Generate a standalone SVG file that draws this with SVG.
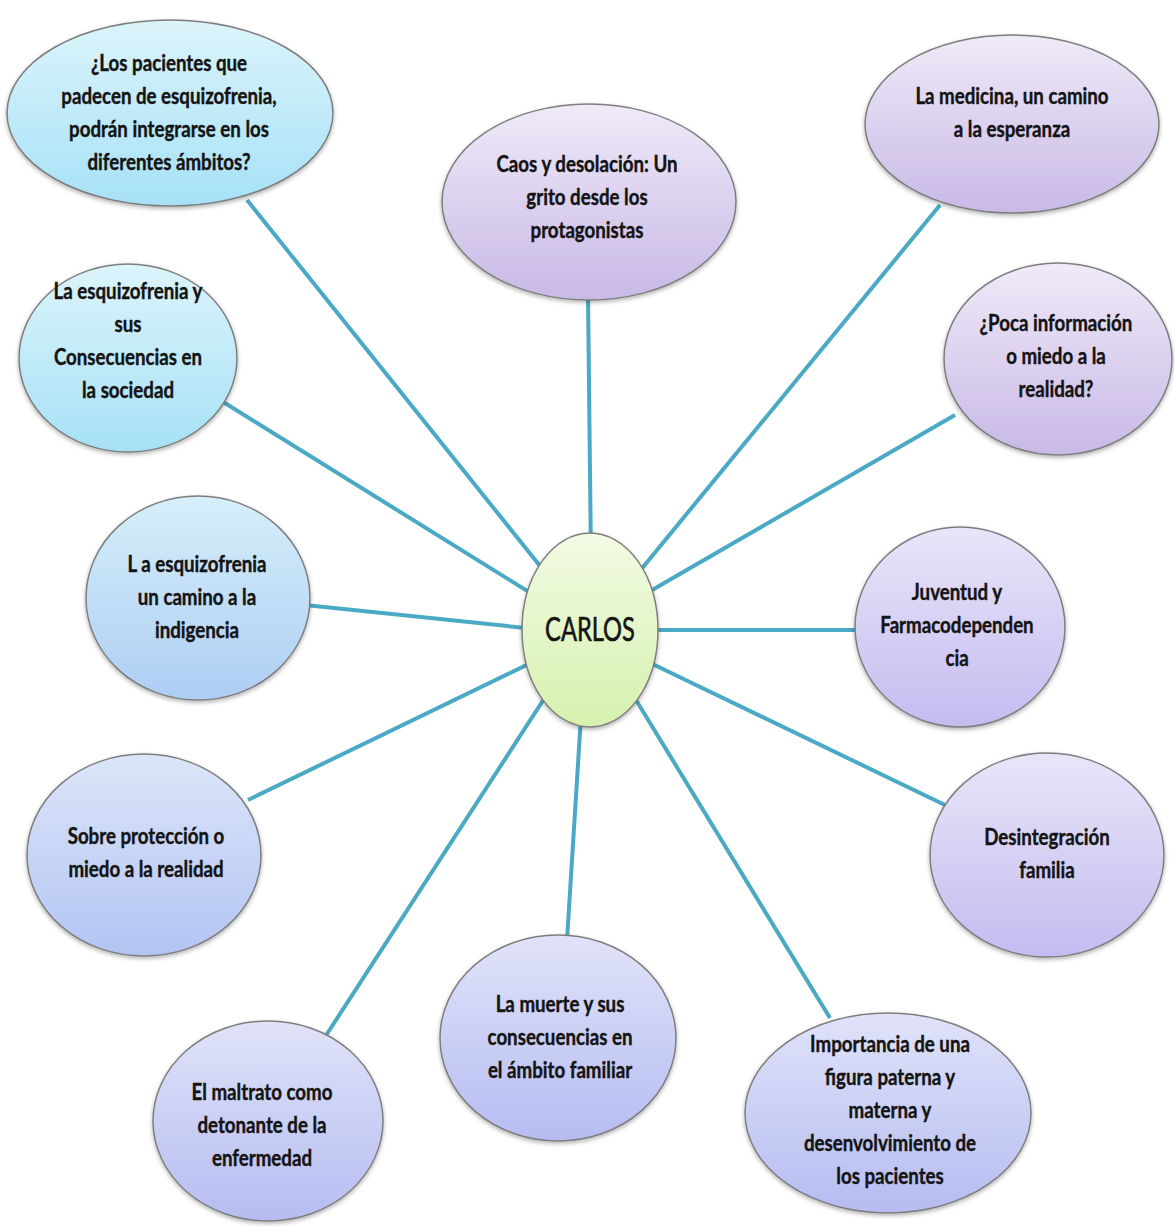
<svg xmlns="http://www.w3.org/2000/svg" width="1175" height="1226" viewBox="0 0 1175 1226">
<style>
.n{stroke:#7e7e7e;stroke-width:1.5}
.t{font-family:Lato,"Open Sans","Liberation Sans",sans-serif;font-weight:bold;font-size:22px;fill:#141414;stroke:#141414;stroke-width:0.4;text-anchor:middle;dominant-baseline:central}
.c{stroke:#4aa9c4;stroke-width:4;fill:none}
</style>
<defs>
<filter id="sh" x="-10%" y="-10%" width="120%" height="125%"><feDropShadow dx="0" dy="2" stdDeviation="2" flood-color="#000" flood-opacity="0.3"/></filter>
<linearGradient id="gC" x1="0" y1="0" x2="0" y2="1"><stop offset="0" stop-color="#dcf4fb"/><stop offset="1" stop-color="#a6e1f6"/></linearGradient>
<linearGradient id="gL" x1="0" y1="0" x2="0" y2="1"><stop offset="0" stop-color="#f0eaf8"/><stop offset="1" stop-color="#c8b9e6"/></linearGradient>
<linearGradient id="gB1" x1="0" y1="0" x2="0" y2="1"><stop offset="0" stop-color="#d6effa"/><stop offset="1" stop-color="#aecdf3"/></linearGradient>
<linearGradient id="gB2" x1="0" y1="0" x2="0" y2="1"><stop offset="0" stop-color="#dce6f9"/><stop offset="1" stop-color="#b3c4f2"/></linearGradient>
<linearGradient id="gB3" x1="0" y1="0" x2="0" y2="1"><stop offset="0" stop-color="#e0e3f9"/><stop offset="1" stop-color="#b6bcf1"/></linearGradient>
<linearGradient id="gP" x1="0" y1="0" x2="0" y2="1"><stop offset="0" stop-color="#e9e5f8"/><stop offset="1" stop-color="#c4bcf0"/></linearGradient>
<linearGradient id="gG" x1="0" y1="0" x2="0" y2="1"><stop offset="0" stop-color="#f2fbe4"/><stop offset="1" stop-color="#d6f1ae"/></linearGradient>
</defs>
<rect width="1175" height="1226" fill="#ffffff"/>
<g id="connectors">
<line class="c" x1="548" y1="576" x2="247" y2="200"/>
<line class="c" x1="591" y1="560" x2="588" y2="295"/>
<line class="c" x1="630" y1="583" x2="940" y2="205"/>
<line class="c" x1="640" y1="597" x2="955" y2="415"/>
<line class="c" x1="640" y1="630" x2="860" y2="630"/>
<line class="c" x1="640" y1="658" x2="945" y2="805"/>
<line class="c" x1="625" y1="682" x2="830" y2="1018"/>
<line class="c" x1="582" y1="700" x2="567" y2="940"/>
<line class="c" x1="555" y1="682" x2="325" y2="1037"/>
<line class="c" x1="545" y1="656" x2="248" y2="800"/>
<line class="c" x1="545" y1="630" x2="305" y2="605"/>
<line class="c" x1="545" y1="602" x2="220" y2="400"/>
</g>
<g id="n1"><ellipse class="n" filter="url(#sh)" cx="170" cy="113" rx="163" ry="93" fill="url(#gC)"/>
<g transform="translate(169 -2) scale(0.85 1)"><text class="t" x="0" y="64">¿Los pacientes que</text><text class="t" x="0" y="97">padecen de esquizofrenia,</text><text class="t" x="0" y="130">podrán integrarse en los</text><text class="t" x="0" y="163">diferentes ámbitos?</text></g></g>
<g id="n2"><ellipse class="n" filter="url(#sh)" cx="589" cy="202" rx="147" ry="98" fill="url(#gL)"/>
<g transform="translate(587 -2) scale(0.85 1)"><text class="t" x="0" y="165">Caos y desolación: Un</text><text class="t" x="0" y="198">grito desde los</text><text class="t" x="0" y="231">protagonistas</text></g></g>
<g id="n3"><ellipse class="n" filter="url(#sh)" cx="1012" cy="124" rx="147" ry="89" fill="url(#gL)"/>
<g transform="translate(1012 -2) scale(0.85 1)"><text class="t" x="0" y="97">La medicina, un camino</text><text class="t" x="0" y="130">a la esperanza</text></g></g>
<g id="n4"><ellipse class="n" filter="url(#sh)" cx="1058" cy="359" rx="114" ry="96" fill="url(#gL)"/>
<g transform="translate(1056 -2) scale(0.85 1)"><text class="t" x="0" y="324">¿Poca información</text><text class="t" x="0" y="357">o miedo a la</text><text class="t" x="0" y="390">realidad?</text></g></g>
<g id="n5"><ellipse class="n" filter="url(#sh)" cx="960" cy="627" rx="105" ry="100" fill="url(#gP)"/>
<g transform="translate(957 -2) scale(0.85 1)"><text class="t" x="0" y="593">Juventud y</text><text class="t" x="0" y="626">Farmacodependen</text><text class="t" x="0" y="659">cia</text></g></g>
<g id="n6"><ellipse class="n" filter="url(#sh)" cx="1047" cy="855" rx="117" ry="102" fill="url(#gP)"/>
<g transform="translate(1047 -2) scale(0.85 1)"><text class="t" x="0" y="838">Desintegración</text><text class="t" x="0" y="871">familia</text></g></g>
<g id="n7"><ellipse class="n" filter="url(#sh)" cx="888" cy="1113" rx="143" ry="100" fill="url(#gB3)"/>
<g transform="translate(890 -2) scale(0.85 1)"><text class="t" x="0" y="1045">Importancia de una</text><text class="t" x="0" y="1078">figura paterna y</text><text class="t" x="0" y="1111">materna y</text><text class="t" x="0" y="1144">desenvolvimiento de</text><text class="t" x="0" y="1177">los pacientes</text></g></g>
<g id="n8"><ellipse class="n" filter="url(#sh)" cx="558" cy="1038" rx="118" ry="103" fill="url(#gB3)"/>
<g transform="translate(560 -2) scale(0.85 1)"><text class="t" x="0" y="1005">La muerte y sus</text><text class="t" x="0" y="1038">consecuencias en</text><text class="t" x="0" y="1071">el ámbito familiar</text></g></g>
<g id="n9"><ellipse class="n" filter="url(#sh)" cx="268" cy="1121" rx="115" ry="100" fill="url(#gB3)"/>
<g transform="translate(262 -2) scale(0.85 1)"><text class="t" x="0" y="1093">El maltrato como</text><text class="t" x="0" y="1126">detonante de la</text><text class="t" x="0" y="1159">enfermedad</text></g></g>
<g id="n10"><ellipse class="n" filter="url(#sh)" cx="144" cy="855" rx="117" ry="101" fill="url(#gB2)"/>
<g transform="translate(146 -2) scale(0.85 1)"><text class="t" x="0" y="837">Sobre protección o</text><text class="t" x="0" y="870">miedo a la realidad</text></g></g>
<g id="n11"><ellipse class="n" filter="url(#sh)" cx="198" cy="598" rx="112" ry="102" fill="url(#gB1)"/>
<g transform="translate(197 -2) scale(0.85 1)"><text class="t" x="0" y="565">L a esquizofrenia</text><text class="t" x="0" y="598">un camino a la</text><text class="t" x="0" y="631">indigencia</text></g></g>
<g id="n12"><ellipse class="n" filter="url(#sh)" cx="128" cy="358" rx="109" ry="94" fill="url(#gC)"/>
<g transform="translate(128 -2) scale(0.85 1)"><text class="t" x="0" y="292">La esquizofrenia y</text><text class="t" x="0" y="325">sus</text><text class="t" x="0" y="358">Consecuencias en</text><text class="t" x="0" y="391">la sociedad</text></g></g>
<g id="center"><ellipse class="n" filter="url(#sh)" cx="590" cy="630" rx="68" ry="97" fill="url(#gG)"/>
<g transform="translate(590 -1) scale(0.74 1)"><text class="t" x="0" y="630" style="font-size:32px;font-weight:normal;stroke-width:0.6">CARLOS</text></g></g>
</svg>
